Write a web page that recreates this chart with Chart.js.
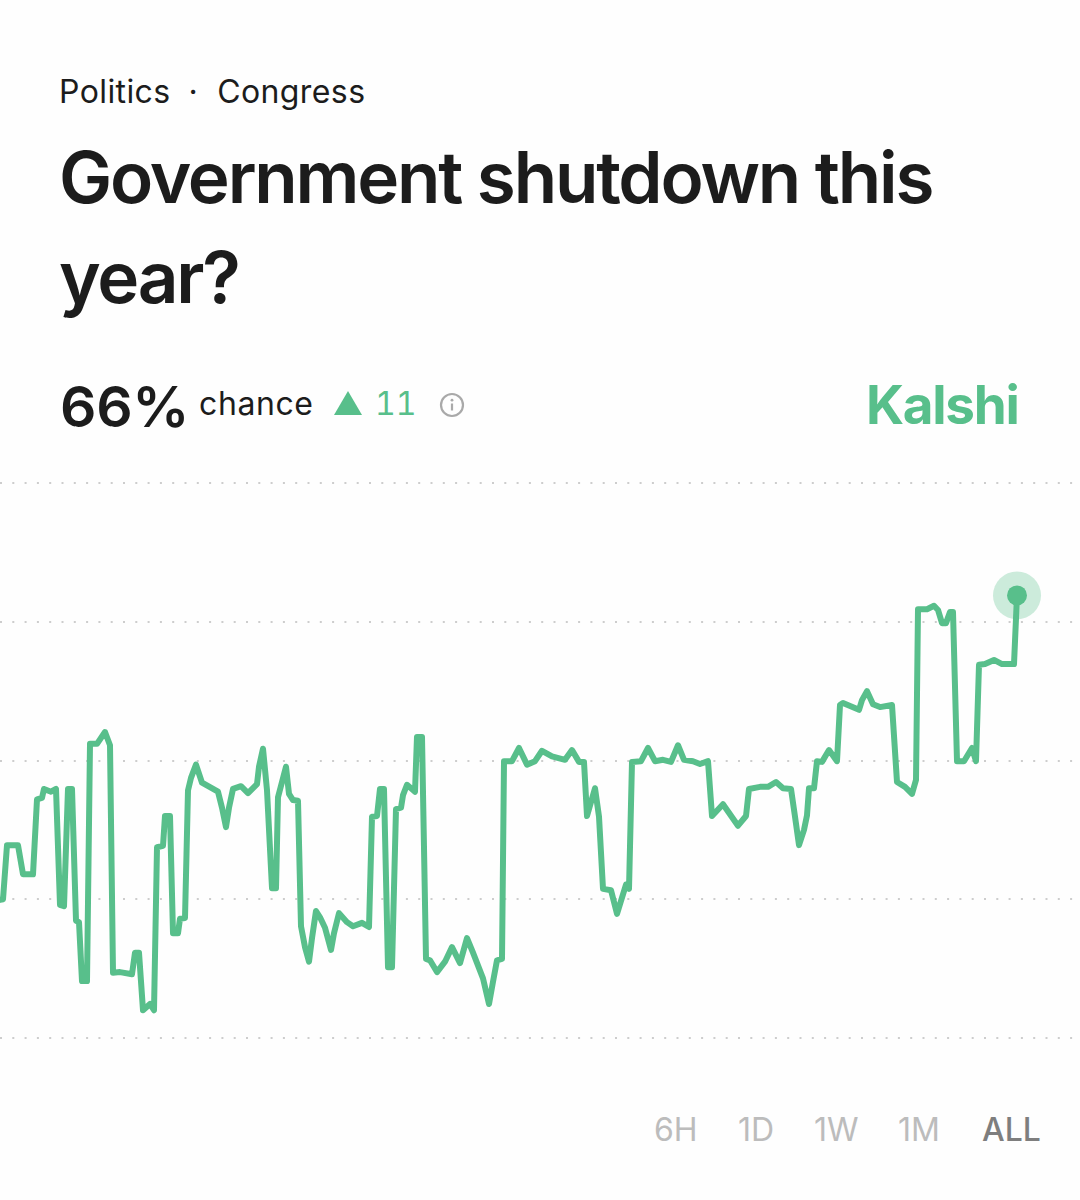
<!DOCTYPE html>
<html>
<head>
<meta charset="utf-8">
<title>Government shutdown this year?</title>
<script src="https://cdn.jsdelivr.net/npm/chart.js@4/dist/chart.umd.min.js"></script>
<style>
  html, body { margin: 0; padding: 0; background: #fefefe; }
  body { position: relative; width: 1080px; height: 1200px; overflow: hidden; font-family: Inter, "Noto Sans", sans-serif; color: #1c1c1c; }
  .abs { position: absolute; white-space: nowrap; line-height: 1; }
  #crumbs { left: 59px; top: 76px; font-size: 32px; letter-spacing: 0.4px; }
  #crumbs .dot { margin: 0 19px 0 18px; }
  #title { left: 59px; top: 127px; font-size: 71px; font-weight: 600; letter-spacing: -2.2px; line-height: 100px; white-space: normal; width: 920px; }
  #pct { left: 60px; top: 378px; font-size: 57px; font-weight: 600; letter-spacing: -0.3px; }
  #chance { left: 199px; top: 388px; font-size: 32px; letter-spacing: 0.6px; }
  #tri { left: 334px; top: 391px; width: 0; height: 0; border-left: 14.5px solid transparent; border-right: 14.5px solid transparent; border-bottom: 24px solid #58bf8b; }
  #delta { left: 375px; top: 388px; font-size: 32px; color: #58bf8b; letter-spacing: 0; font-variant-numeric: tabular-nums; font-feature-settings: "tnum"; }
  #info { left: 439px; top: 392px; }
  #brand { left: 866px; top: 379px; font-size: 53px; font-weight: 700; color: #58bf8b; letter-spacing: -1.3px; }
  #chart-box { position: absolute; left: 0; top: 463px; width: 1080px; height: 595px; }
  .range { top: 1114px; font-size: 32px; color: #bcbcbc; }
  .range.on { color: #7e7e7e; font-weight: 500; }
</style>
</head>
<body>
<div class="abs" id="crumbs">Politics<span class="dot">·</span>Congress</div>
<div class="abs" id="title">Government shutdown this year?</div>
<div class="abs" id="pct">66%</div>
<div class="abs" id="chance">chance</div>
<div class="abs" id="tri"></div>
<div class="abs" id="delta">11</div>
<svg class="abs" id="info" width="26" height="26" viewBox="0 0 26 26">
  <circle cx="13" cy="13" r="11" fill="none" stroke="#a9a9a9" stroke-width="2.2"/>
  <rect x="11.9" y="11.5" width="2.2" height="7" fill="#a9a9a9"/>
  <circle cx="13" cy="8.2" r="1.4" fill="#a9a9a9"/>
</svg>
<div class="abs" id="brand">Kalshi</div>
<div id="chart-box"><canvas id="priceChart" width="1080" height="595"></canvas></div>

<script>
// Price history (time in arbitrary units, chance in %)
const times = [
  0, 3, 7, 18, 23, 33, 37, 42, 44, 51, 56, 60, 64, 68, 72, 76, 79, 82, 87, 90,
  97, 105, 110, 113, 120, 132, 135, 139, 143, 150, 154, 157, 163, 165, 170, 173, 178, 180, 185, 188,
  191, 196, 202, 218, 222, 226, 229, 233, 241, 248, 257, 259, 263, 267, 272, 276, 278, 282, 286, 289,
  293, 298, 301, 305, 309, 312, 316, 320, 325, 331, 334, 339, 347, 353, 362, 369, 372, 377, 380, 384,
  388, 392, 396, 401, 403, 407, 415, 417, 422, 426, 430, 437, 445, 452, 460, 467, 473, 483, 489, 493,
  497, 502, 504, 512, 519, 527, 535, 542, 552, 565, 572, 579, 584, 587, 595, 599, 603, 611, 617, 626,
  629, 632, 641, 648, 655, 663, 671, 678, 684, 693, 700, 708, 712, 723, 738, 746, 749, 760, 768, 776,
  783, 791, 795, 799, 804, 807, 809, 814, 817, 822, 829, 837, 840, 843, 859, 862, 867, 873, 880, 892,
  897, 905, 912, 916, 918, 927, 934, 938, 942, 946, 950, 953, 957, 964, 972, 976, 979, 985, 994, 1002,
  1014, 1017
];
const chance = [
  21.9, 22.0, 29.8, 29.8, 25.6, 25.6, 36.4, 36.6, 37.9, 37.5, 37.9, 21.2, 21.0, 37.9, 37.9, 18.9, 18.7, 10.2, 10.2, 44.4,
  44.4, 46.1, 44.2, 11.4, 11.5, 11.2, 14.3, 14.3, 6.0, 6.9, 6.0, 29.5, 29.7, 34.0, 34.0, 17.1, 17.1, 19.2, 19.3, 37.7,
  39.5, 41.4, 38.8, 37.5, 35.2, 32.4, 35.2, 37.9, 38.3, 37.3, 38.6, 41.1, 43.7, 37.7, 23.6, 23.6, 36.7, 38.9, 41.1, 37.2,
  36.3, 36.2, 18.1, 15.1, 13.0, 16.4, 20.3, 19.4, 17.9, 14.7, 17.1, 20.0, 18.7, 18.1, 18.6, 18.0, 33.9, 34.0, 37.9, 37.9,
  12.2, 12.2, 35.0, 35.2, 37.0, 38.5, 37.5, 45.4, 45.4, 13.4, 13.2, 11.5, 13.0, 15.1, 12.8, 16.4, 14.3, 10.6, 6.9, 10.1,
  13.2, 13.4, 41.9, 41.9, 43.8, 41.4, 41.9, 43.4, 42.6, 42.1, 43.5, 41.8, 41.8, 34.0, 38.0, 33.9, 23.5, 23.3, 19.9, 24.1,
  23.5, 41.8, 41.9, 43.8, 41.9, 42.1, 41.8, 44.2, 42.1, 41.9, 41.5, 41.9, 34.0, 35.7, 32.6, 34.0, 37.9, 38.2, 38.2, 38.9,
  38.0, 37.9, 33.9, 29.8, 32.0, 34.1, 38.0, 38.0, 41.9, 41.8, 43.5, 41.9, 50.0, 50.3, 49.3, 50.7, 52.0, 50.1, 49.7, 50.0,
  38.9, 38.2, 37.2, 39.2, 63.8, 63.8, 64.3, 63.7, 61.8, 61.8, 63.4, 63.4, 41.9, 41.9, 43.8, 41.9, 55.8, 55.9, 56.5, 55.9,
  55.9, 65.8
];
const gridValues = [2, 22, 42, 62, 82];
const rangeLabels = ['6H', '1D', '1W', '1M', 'ALL'];
const rangeLefts = [654, 738, 814, 898, 982];
const activeRange = 'ALL';

const green = '#58bf8b';
const points = times.map((t, i) => ({ x: t, y: chance[i] }));
const latest = points[points.length - 1];

// Range buttons under the chart
rangeLabels.forEach((label, i) => {
  const el = document.createElement('div');
  el.className = 'abs range' + (label === activeRange ? ' on' : '');
  el.style.left = rangeLefts[i] + 'px';
  el.textContent = label;
  document.body.appendChild(el);
});

new Chart(document.getElementById('priceChart'), {
  type: 'line',
  data: {
    datasets: [
      { data: [latest], pointRadius: 10, pointBackgroundColor: green, pointBorderWidth: 0, showLine: false, order: 1 },
      { data: [latest], pointRadius: 24, pointBackgroundColor: 'rgba(88,191,139,0.3)', pointBorderWidth: 0, showLine: false, order: 3 },
      { data: points, borderColor: green, borderWidth: 6, pointRadius: 0, tension: 0, borderJoinStyle: 'round', borderCapStyle: 'round', order: 2 }
    ]
  },
  options: {
    responsive: false,
    animation: false,
    events: [],
    layout: { autoPadding: false, padding: { top: 20, bottom: 20, left: 0, right: 0 } },
    plugins: { legend: { display: false }, tooltip: { enabled: false } },
    scales: {
      x: { type: 'linear', display: false, min: 0, max: 1080 },
      y: {
        min: 2,
        max: 82,
        afterBuildTicks: scale => { scale.ticks = gridValues.map(v => ({ value: v })); },
        ticks: { display: false },
        border: { display: false, dash: [2, 10.3] },
        grid: { color: '#cdcdcd', lineWidth: 2, drawTicks: false }
      }
    }
  }
});
</script>
</body>
</html>
